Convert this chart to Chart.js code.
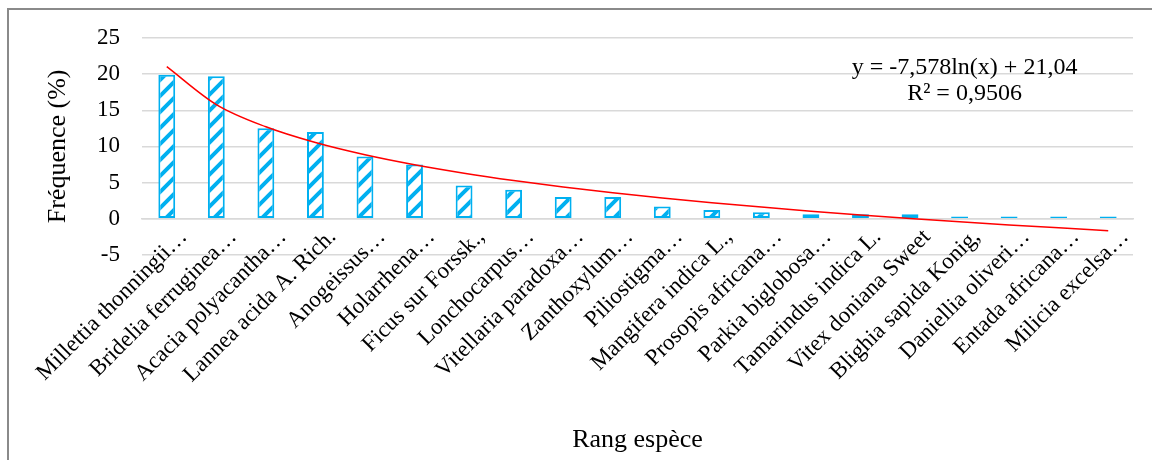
<!DOCTYPE html>
<html>
<head>
<meta charset="utf-8">
<script src="https://cdn.jsdelivr.net/npm/chart.js@4/dist/chart.umd.min.js"></script>
<style>
  body { margin: 0; background: #fff; }
  #wrap { position: relative; width: 1152px; height: 460px; overflow: hidden; }
  #frame { position: absolute; left: 7px; top: 8px; width: 1200px; height: 500px;
           border-left: 2px solid #8a8a8a; border-top: 2px solid #8a8a8a; }
  #wrap canvas { position: absolute; left: 0; top: 0; }
</style>
</head>
<body>
<div id="wrap">
  <div id="frame"></div>
  <canvas id="chart" width="1152" height="460"></canvas>
</div>
<script>
var especes = ['Millettia thonningii…', 'Bridelia ferruginea…', 'Acacia polyacantha…',
    'Lannea acida A. Rich.', 'Anogeissus…', 'Holarrhena…', 'Ficus sur Forssk.,',
    'Lonchocarpus…', 'Vitellaria paradoxa…', 'Zanthoxylum…', 'Piliostigma…',
    'Mangifera indica L.,', 'Prosopis africana…', 'Parkia biglobosa…',
    'Tamarindus indica L.', 'Vitex doniana Sweet', 'Blighia sapida Konig,',
    'Daniellia oliveri…', 'Entada africana…', 'Milicia excelsa…'];
var frequences = [19.9, 19.7, 12.5, 12.0, 8.6, 7.5, 4.6, 4.0, 3.0, 3.0,
    1.7, 1.2, 0.9, 0.6, 0.6, 0.6, 0.3, 0.3, 0.3, 0.3];
// courbe de tendance affichée : y = -7,578ln(x) + 21,04
var tendanceA = -7.578;
var tendanceB = 21.04;
var equation = ['y = -7,578ln(x) + 21,04', 'R² = 0,9506'];

var bleu = '#00b0f0';
var police = '"Liberation Serif", "Times New Roman", serif';

function hachures() {
    var c = document.createElement('canvas');
    c.width = 16; c.height = 16;
    var g = c.getContext('2d');
    g.fillStyle = '#fff';
    g.fillRect(0, 0, 16, 16);
    g.strokeStyle = bleu;
    g.lineWidth = 4;
    g.beginPath();
    g.moveTo(-4, 20); g.lineTo(20, -4);
    g.moveTo(-4, 4); g.lineTo(4, -4);
    g.moveTo(12, 20); g.lineTo(20, 12);
    g.stroke();
    return g.createPattern(c, 'repeat');
}

var tendance = especes.map(function (e, i) {
    return tendanceA * Math.log(i + 1) + tendanceB;
});

var equationPlugin = {
    id: 'equation',
    afterDatasetsDraw: function (chart) {
        var ctx = chart.ctx;
        var x = chart.scales.x.getPixelForValue(16.1);
        ctx.save();
        ctx.font = '24px ' + police;
        ctx.fillStyle = '#000';
        ctx.textAlign = 'center';
        ctx.textBaseline = 'middle';
        ctx.fillText(equation[0], x, chart.scales.y.getPixelForValue(20.9));
        ctx.fillText(equation[1], x, chart.scales.y.getPixelForValue(17.3));
        ctx.restore();
    }
};

var ctx = document.getElementById('chart').getContext('2d');
var myChart = new Chart(ctx, {
    type: 'bar',
    data: {
        labels: especes,
        datasets: [{
            type: 'line',
            data: tendance,
            borderColor: '#ff0000',
            borderWidth: 1.5,
            pointRadius: 0,
            cubicInterpolationMode: 'monotone',
            fill: false,
            order: 0
        }, {
            data: frequences,
            backgroundColor: hachures(),
            borderColor: bleu,
            borderWidth: 2,
            borderSkipped: false,
            barPercentage: 0.34,
            categoryPercentage: 1,
            order: 1
        }]
    },
    options: {
        responsive: false,
        animation: false,
        layout: { padding: { left: 40, right: 19, top: 38, bottom: 0 } },
        plugins: {
            legend: { display: false },
            tooltip: { enabled: false },
            title: {
                display: true,
                fullSize: false,
                text: 'Rang espèce',
                position: 'bottom',
                color: '#000',
                font: { family: police, size: 26, weight: 'normal' },
                padding: { top: 170, bottom: 4 }
            }
        },
        scales: {
            x: {
                position: { y: 0 },
                grid: { display: false, drawTicks: false },
                border: { color: '#d9d9d9', width: 1.5 },
                ticks: {
                    autoSkip: false,
                    minRotation: 45,
                    maxRotation: 45,
                    padding: 5,
                    labelOffset: 17,
                    color: '#000',
                    font: { family: police, size: 23 }
                }
            },
            y: {
                min: -5,
                max: 25,
                afterFit: function (scale) { scale.width = 102; },
                grid: { color: '#d9d9d9', lineWidth: 1.5, drawTicks: false },
                border: { display: false },
                ticks: {
                    stepSize: 5,
                    padding: 22,
                    color: '#000',
                    font: { family: police, size: 23 }
                },
                title: {
                    display: true,
                    text: 'Fréquence (%)',
                    color: '#000',
                    font: { family: police, size: 26 },
                    padding: { top: 3, bottom: 0 }
                }
            }
        }
    },
    plugins: [equationPlugin]
});
</script>
</body>
</html>
